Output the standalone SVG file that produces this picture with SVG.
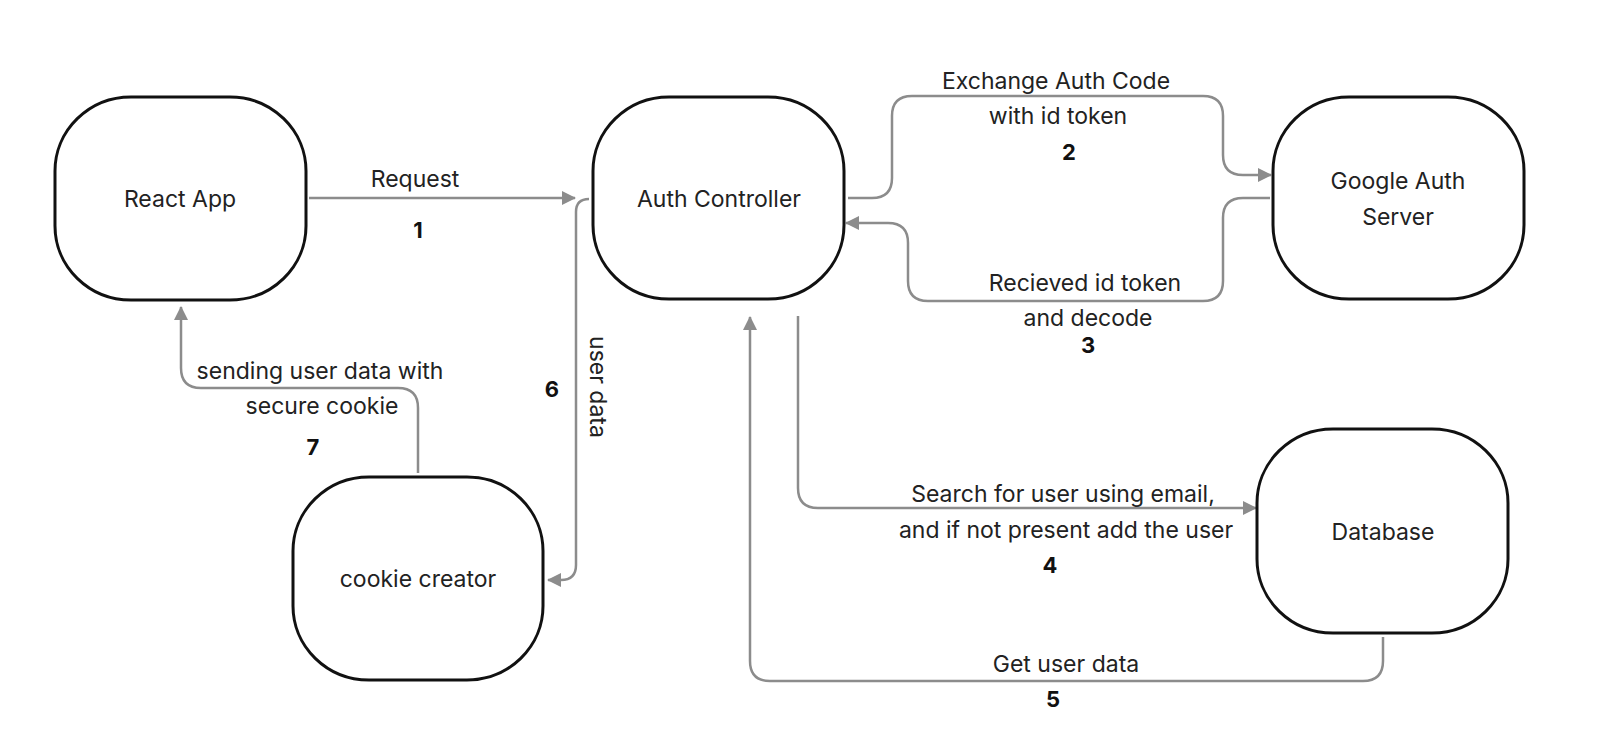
<svg xmlns="http://www.w3.org/2000/svg" width="1618" height="748" viewBox="0 0 1618 748">
<defs>
<marker id="ah" viewBox="0 0 14 14" refX="13" refY="7" markerWidth="14" markerHeight="14" markerUnits="userSpaceOnUse" orient="auto">
<path d="M0,0 L14,7 L0,14 Z" fill="#8c8c8c"/>
</marker>
<style>
.box{fill:#fff;stroke:#111;stroke-width:3}
.lbl{font-family:Inter,"Liberation Sans",sans-serif;font-size:23px;fill:#222;text-anchor:middle}
.num{font-family:Inter,"Liberation Sans",sans-serif;font-size:22px;font-weight:700;fill:#111;text-anchor:middle}
.con{fill:none;stroke:#8c8c8c;stroke-width:2.5;marker-end:url(#ah)}
</style>
</defs>
<rect width="1618" height="748" fill="#fff"/>
<g id="connectors">
<path class="con" d="M309,198 H575"/>
<path class="con" d="M848,198 H872 Q892,198 892,178 V116 Q892,96 912,96 H1203 Q1223,96 1223,116 V155 Q1223,175 1243,175 H1271"/>
<path class="con" d="M1270,198 H1243 Q1223,198 1223,218 V281 Q1223,301 1203,301 H928 Q908,301 908,281 V243 Q908,223 888,223 H846"/>
<path class="con" d="M798,316 V488 Q798,508 818,508 H1256"/>
<path class="con" d="M1383,637 V661 Q1383,681 1363,681 H770 Q750,681 750,661 V317"/>
<path class="con" d="M589,199 Q576,199 576,212 V565 Q576,580 561,580 H548"/>
<path class="con" d="M418,473 V408 Q418,388 398,388 H201 Q181,388 181,368 V307"/>
</g>
<g id="labels">
<text class="lbl" x="415" y="187">Request</text>
<text class="num" x="418" y="238">1</text>
<text class="lbl" x="1056" y="89">Exchange Auth Code</text>
<text class="lbl" x="1058" y="124">with id token</text>
<text class="num" x="1069" y="160">2</text>
<text class="lbl" x="1085" y="291">Recieved id token</text>
<text class="lbl" x="1088" y="326">and decode</text>
<text class="num" x="1088" y="353">3</text>
<text class="lbl" x="1063" y="502">Search for user using email,</text>
<text class="lbl" x="1066" y="538">and if not present add the user</text>
<text class="num" x="1050" y="573">4</text>
<text class="lbl" x="1066" y="672">Get user data</text>
<text class="num" x="1053" y="707">5</text>
<text class="lbl" transform="translate(590,387) rotate(90)">user data</text>
<text class="num" x="552" y="397">6</text>
<text class="lbl" x="320" y="379">sending user data with</text>
<text class="lbl" x="322" y="414">secure cookie</text>
<text class="num" x="313" y="455">7</text>
</g>
<g id="react-app">
<rect class="box" x="55" y="97" width="251" height="203" rx="76" ry="74"/>
<text class="lbl" x="180" y="207">React App</text>
</g>
<g id="auth-controller">
<rect class="box" x="593" y="97" width="251" height="202" rx="76" ry="74"/>
<text class="lbl" x="719" y="207">Auth Controller</text>
</g>
<g id="google-auth-server">
<rect class="box" x="1273" y="97" width="251" height="202" rx="76" ry="74"/>
<text class="lbl" x="1398" y="189">Google Auth</text>
<text class="lbl" x="1398" y="225">Server</text>
</g>
<g id="database">
<rect class="box" x="1257" y="429" width="251" height="204" rx="76" ry="74"/>
<text class="lbl" x="1383" y="540">Database</text>
</g>
<g id="cookie-creator">
<rect class="box" x="293" y="477" width="250" height="203" rx="76" ry="74"/>
<text class="lbl" x="418" y="587">cookie creator</text>
</g>
</svg>
